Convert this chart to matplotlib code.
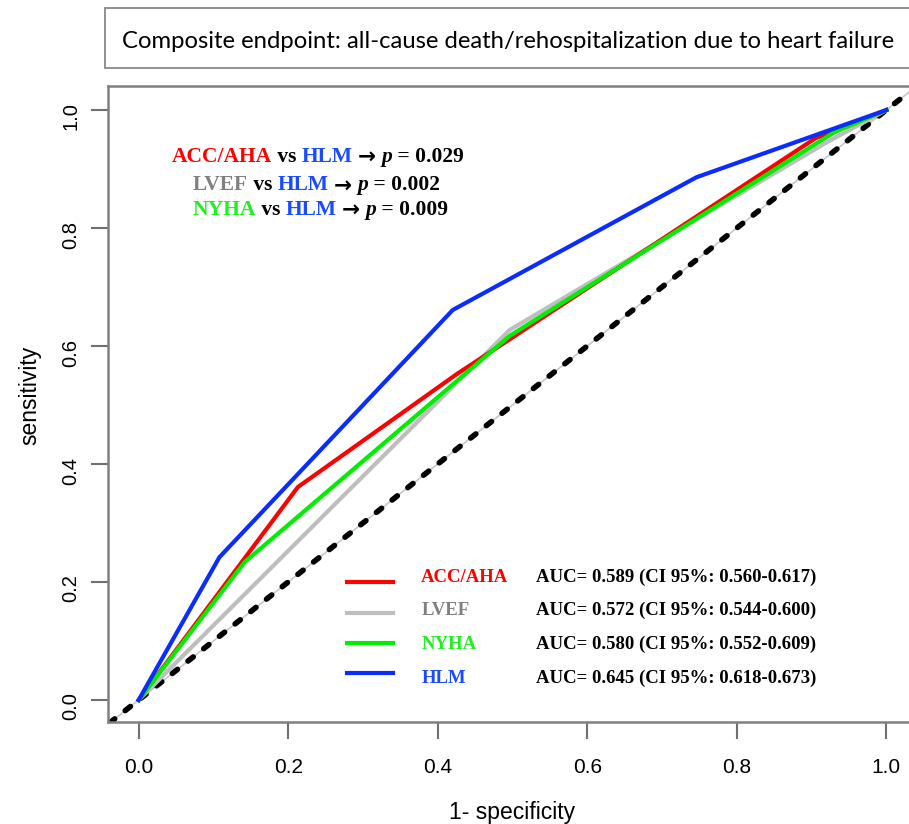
import matplotlib.pyplot as plt
from matplotlib.patches import Rectangle

# ROC points (1-specificity, sensitivity)
acc_x = [0, 0.213, 0.425, 0.905, 1.0]
acc_y = [0, 0.361, 0.552, 0.952, 1.0]
lvef_x = [0, 0.496, 0.92, 1.0]
lvef_y = [0, 0.627, 0.945, 1.0]
nyha_x = [0, 0.142, 0.496, 0.93, 1.0]
nyha_y = [0, 0.234, 0.617, 0.962, 1.0]
hlm_x = [0, 0.108, 0.42, 0.746, 1.0]
hlm_y = [0, 0.242, 0.661, 0.886, 1.0]

names = ['ACC/AHA', 'LVEF', 'NYHA', 'HLM']
auc = ['0.589', '0.572', '0.580', '0.645']
ci_lo = ['0.560', '0.544', '0.552', '0.618']
ci_hi = ['0.617', '0.600', '0.609', '0.673']
p_vals = ['0.029', '0.002', '0.009']

line_cols = ['#ff0000', '#bebebe', '#00ee00', '#0a2cff']
text_cols = ['#ff0000', '#808080', '#22ee22', '#1a4cff']

serif = ['Liberation Serif', 'DejaVu Serif']

fig = plt.figure(figsize=(9.09, 8.24), dpi=100)
ax = fig.add_axes([108/909, 102/824, 809/909, 636/824])

# chance line: thin grey under black dashes
ax.plot([-0.06, 1.1], [-0.06, 1.1], color='#c8c8c8', lw=1.2, zorder=1)
ax.plot([-0.06, 1.1], [-0.06, 1.1], color='black', lw=4,
        linestyle=(0, (1.2, 2.4)), dash_capstyle='round', zorder=1.5)

ax.plot(lvef_x, lvef_y, color=line_cols[1], lw=3, zorder=2)
ax.plot(acc_x, acc_y, color=line_cols[0], lw=3, zorder=3)
ax.plot(nyha_x, nyha_y, color=line_cols[2], lw=3, zorder=4)
ax.plot(hlm_x, hlm_y, color=line_cols[3], lw=3, zorder=5)

ax.set_xlim(-0.041, 1.041)
ax.set_ylim(-0.0373, 1.0407)
ticks = [0.0, 0.2, 0.4, 0.6, 0.8, 1.0]
ax.set_xticks(ticks)
ax.set_yticks(ticks)
ax.set_xticklabels(['%.1f' % t for t in ticks], family='Liberation Sans', fontsize=15)
ax.set_yticklabels(['%.1f' % t for t in ticks], family='Liberation Sans', fontsize=14.5)
ax.tick_params(axis='y', labelrotation=90, length=12, width=1.5, color='#707070', pad=8)
ax.tick_params(axis='x', length=12, width=1.5, color='#707070', pad=14)
for s in ax.spines.values():
    s.set_color('#808080')
    s.set_linewidth(1.8)

ax.set_xlabel('1- specificity', family='Liberation Sans', fontsize=16.5)
ax.xaxis.set_label_coords(0.50, -0.125)
ax.set_ylabel('sensitivity', family='Liberation Sans', fontsize=16.5)
ax.yaxis.set_label_coords(-0.082, 0.514)

# legend drawn by hand (coloured names + AUC column)
line_y = [0.200, 0.1475, 0.0966, 0.0458]
text_y = [0.200, 0.144, 0.0864, 0.0288]
for i in range(4):
    ax.plot([0.278, 0.340], [line_y[i], line_y[i]], color=line_cols[i], lw=3)
    ax.text(0.378, text_y[i], names[i], color=text_cols[i], family=serif,
            weight='bold', fontsize=13.5, va='baseline', ha='left')
    ax.text(0.531, text_y[i], 'AUC= %s (CI 95%%: %s-%s)' % (auc[i], ci_lo[i], ci_hi[i]),
            color='black', family=serif, weight='bold', fontsize=13.5,
            va='baseline', ha='left')

# p-value comparisons, multicoloured text chained piece by piece
p_start = [(0.044, 0.912), (0.072, 0.864), (0.072, 0.822)]
for i in range(3):
    pieces = [(names[i], text_cols[i], 'normal', serif),
              (' vs ', 'black', 'normal', serif),
              ('HLM', text_cols[3], 'normal', serif),
              (' ', 'black', 'normal', serif),
              ('\u2192', 'black', 'normal', ['DejaVu Sans']),
              (' ', 'black', 'normal', serif),
              ('p', 'black', 'italic', serif),
              (' = ' + p_vals[i], 'black', 'normal', serif)]
    prev = None
    for s, c, st, fam in pieces:
        kw = dict(color=c, family=fam, weight='bold', style=st, fontsize=15.5)
        if prev is None:
            prev = ax.text(p_start[i][0], p_start[i][1], s, va='baseline', ha='left', **kw)
        else:
            prev = ax.annotate(s, xy=(1, 0), xycoords=prev, va='bottom', ha='left', **kw)

# title box at the top
fig.patches.append(Rectangle((105/909, 1 - 68/824), 0.95, 60/824, transform=fig.transFigure,
                             facecolor='white', edgecolor='#888888', lw=1.3))
fig.text(122/909, 1 - 41/824,
         'Composite endpoint: all-cause death/rehospitalization due to heart failure',
         family=['Lato', 'DejaVu Sans'], fontsize=17.2, va='center', ha='left')

fig.savefig('out.png', dpi=100)
